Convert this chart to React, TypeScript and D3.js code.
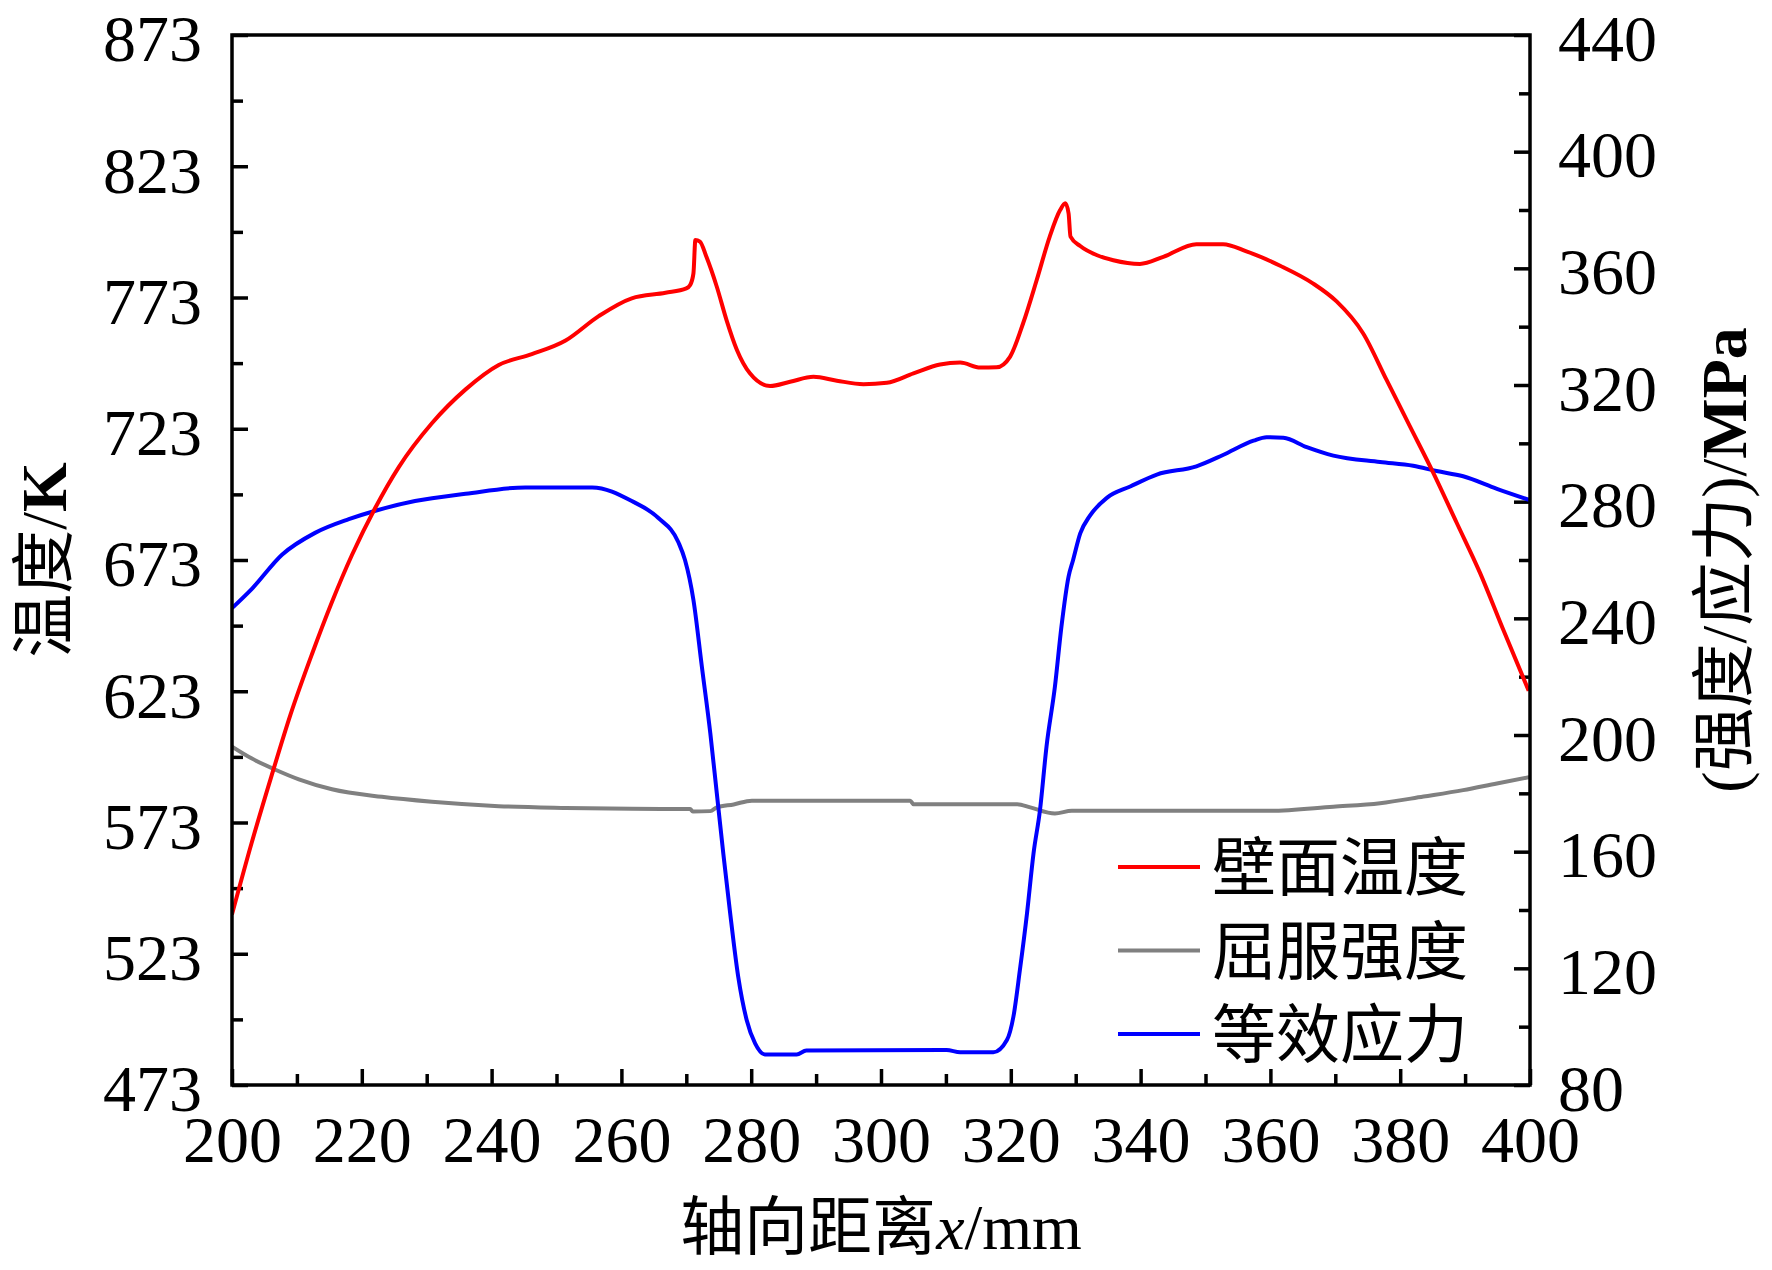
import React, { useEffect, useRef } from 'react';
import * as d3 from 'd3';

// 壁面温度 (K), left axis
const wallTemp: [number, number][] = [
  [200, 538], [203, 565], [206, 590], [209, 614], [212.3, 637], [215.4, 657],
  [218.5, 675], [222.1, 693], [225.7, 708.4], [230.8, 725.1], [236, 738.0], [241.1, 747.3],
  [246.2, 751.4], [251.4, 756.6], [256.5, 765.9], [261.6, 772.7], [266.8, 774.8], [270.0, 776.5],
  [270.6, 777.8], [271.1, 782.2], [271.4, 794.9], [272.1, 794.3], [273.1, 788.5], [274.7, 777.1],
  [276.2, 764.4], [277.8, 753.0], [279.8, 744.1], [282.9, 739.3], [286, 740.9], [289.6, 742.8],
  [293.2, 741.3], [297.3, 740.0], [300.9, 740.5], [305, 744.1], [309.1, 747.5], [312.2, 748.2],
  [315.3, 746.3], [317.8, 746.4], [319.9, 750.5], [321.9, 763.2], [324, 779.7], [326, 796.2],
  [327.6, 806.3], [328.4, 808.9], [328.9, 805.1], [329.2, 796.2], [330.7, 792.6], [333.2, 789.2],
  [335.8, 787.2], [339.9, 785.8], [343.5, 788.5], [348.6, 793.3], [352.7, 793.3], [356.3, 790.6],
  [361.5, 785.1], [366.6, 778.3], [370.2, 771.5], [374.3, 759.3], [377.9, 741.6], [381.5, 723.9],
  [385.1, 706.2], [388.7, 687.2], [392.3, 668.1], [395.9, 646.3], [399.8, 623.2],
];

// 屈服强度 (MPa), right axis
const yieldStrength: [number, number][] = [
  [200, 196.0], [203, 192], [206.7, 188.1], [210.3, 184.8], [215.4, 181.4], [223.1, 178.8],
  [230.8, 177.1], [241.1, 175.6], [251.4, 175.0], [261.6, 174.7], [270.6, 174.6], [271, 173.8],
  [273.7, 173.9], [274.7, 175.2], [277.3, 176.2], [280.1, 177.5], [304.5, 177.5], [305, 176.3],
  [321, 176.3], [323, 175.2], [326.8, 173.1], [329.4, 174.0], [360, 174.0], [369.7, 175.4],
  [376.9, 176.6], [383.6, 178.9], [389.7, 181.1], [394.9, 183.4], [400, 185.6],
];

// 等效应力 (MPa), right axis
const equivStress: [number, number][] = [
  [200, 243.5], [203.1, 250.2], [207.7, 261.8], [212.8, 269.3], [218, 274.0], [222.1, 276.9],
  [228.2, 280.2], [236, 282.7], [245.2, 284.9], [255.5, 284.9], [261.6, 280.2], [265.7, 274.4],
  [268.8, 266.0], [269.8, 260], [271.1, 246.3], [272.4, 223.4], [273.7, 200.6], [274.7, 180],
  [275.7, 159.4], [276.7, 140], [278.0, 117.1], [279.3, 102.3], [280.6, 94.3], [282.1, 90.5],
  [287.0, 90.5], [288.5, 91.8], [310.1, 92], [312.2, 91.2], [317.3, 91.2], [319.4, 95.4],
  [320.4, 103.4], [321.4, 119.4], [322.5, 138.9], [323.5, 159.4], [324.5, 174.3], [325.5, 196],
  [326.8, 216.6], [327.8, 237.1], [328.9, 254.3], [329.6, 260], [330.7, 269.1], [332.2, 275.2],
  [334.8, 281.3], [338.4, 285.2], [342.5, 289.3], [348.6, 292.1], [352.7, 296.0], [357.4, 300.9],
  [359.4, 302.1], [362, 301.9], [365.6, 298.7], [369.7, 295.8], [376.9, 293.6], [382, 292.3],
  [385.6, 290.5], [389.7, 288.7], [394.9, 284.4], [400, 280.5],
];

const xTicks = [200, 220, 240, 260, 280, 300, 320, 340, 360, 380, 400];
const xMinor = [210, 230, 250, 270, 290, 310, 330, 350, 370, 390];
const leftTicks = [473, 523, 573, 623, 673, 723, 773, 823, 873];
const leftMinor = [498, 548, 598, 648, 698, 748, 798, 848];
const rightTicks = [80, 120, 160, 200, 240, 280, 320, 360, 400, 440];
const rightMinor = [100, 140, 180, 220, 260, 300, 340, 380, 420];

const legendLabels = ['壁面温度', '屈服强度', '等效应力'];
const legendColors = ['#ff0000', '#808080', '#0000ff'];

const width = 1772;
const height = 1270;
const margin = { top: 35, right: 242, bottom: 185, left: 232 };
const FONT = "'Liberation Serif', 'Noto Sans CJK SC', serif";

const App: React.FC = () => {
  const svgRef = useRef<SVGSVGElement | null>(null);

  useEffect(() => {
    if (!svgRef.current) return;
    const svg = d3.select(svgRef.current);
    svg.selectAll('*').remove();

    const x0 = margin.left;
    const x1 = width - margin.right;
    const y0 = margin.top;
    const y1 = height - margin.bottom;

    const xScale = d3.scaleLinear().domain([200, 400]).range([x0, x1]);
    const yLeft = d3.scaleLinear().domain([473, 873]).range([y1, y0]);
    const yRight = d3.scaleLinear().domain([80, 440]).range([y1, y0]);

    svg.append('defs').append('clipPath').attr('id', 'plot-clip')
      .append('rect').attr('x', x0).attr('y', y0).attr('width', x1 - x0).attr('height', y1 - y0);

    const styleAxis = (g: d3.Selection<SVGGElement, unknown, null, undefined>) => {
      g.select('.domain').remove();
      g.attr('font-family', FONT).attr('font-size', 66);
      g.selectAll('line').attr('stroke', '#000').attr('stroke-width', 3.5);
      g.selectAll('text').attr('fill', '#000');
    };

    // left axis
    svg.append('g').attr('transform', `translate(${x0},0)`)
      .call(d3.axisLeft(yLeft).tickValues(leftTicks).tickSize(-16).tickPadding(30).tickFormat(d3.format('d')))
      .call(styleAxis)
      .selectAll('text').attr('dy', '0.39em');
    svg.append('g').attr('transform', `translate(${x0},0)`)
      .call(d3.axisLeft(yLeft).tickValues(leftMinor).tickSize(-11).tickFormat(() => ''))
      .call(styleAxis);

    // right axis
    svg.append('g').attr('transform', `translate(${x1},0)`)
      .call(d3.axisRight(yRight).tickValues(rightTicks).tickSize(-16).tickPadding(28).tickFormat(d3.format('d')))
      .call(styleAxis)
      .selectAll('text').attr('dy', '0.38em');
    svg.append('g').attr('transform', `translate(${x1},0)`)
      .call(d3.axisRight(yRight).tickValues(rightMinor).tickSize(-11).tickFormat(() => ''))
      .call(styleAxis);

    // bottom axis
    svg.append('g').attr('transform', `translate(0,${y1})`)
      .call(d3.axisBottom(xScale).tickValues(xTicks).tickSize(-16).tickPadding(30).tickFormat(d3.format('d')))
      .call(styleAxis);
    svg.append('g').attr('transform', `translate(0,${y1})`)
      .call(d3.axisBottom(xScale).tickValues(xMinor).tickSize(-11).tickFormat(() => ''))
      .call(styleAxis);

    // curves
    const lineLeft = d3.line<[number, number]>()
      .x(d => xScale(d[0])).y(d => yLeft(d[1])).curve(d3.curveMonotoneX);
    const lineRight = d3.line<[number, number]>()
      .x(d => xScale(d[0])).y(d => yRight(d[1])).curve(d3.curveMonotoneX);

    const curves = svg.append('g').attr('clip-path', 'url(#plot-clip)');
    curves.append('path').datum(yieldStrength).attr('d', lineRight)
      .attr('fill', 'none').attr('stroke', legendColors[1]).attr('stroke-width', 4);
    curves.append('path').datum(equivStress).attr('d', lineRight)
      .attr('fill', 'none').attr('stroke', legendColors[2]).attr('stroke-width', 4);
    curves.append('path').datum(wallTemp).attr('d', lineLeft)
      .attr('fill', 'none').attr('stroke', legendColors[0]).attr('stroke-width', 4);

    // frame
    svg.append('rect').attr('x', x0).attr('y', y0).attr('width', x1 - x0).attr('height', y1 - y0)
      .attr('fill', 'none').attr('stroke', '#000').attr('stroke-width', 3.5);

    // legend
    const legend = svg.append('g');
    legendLabels.forEach((label, i) => {
      const ly = 867 + i * 83.5;
      legend.append('line').attr('x1', 1118).attr('x2', 1200).attr('y1', ly).attr('y2', ly)
        .attr('stroke', legendColors[i]).attr('stroke-width', 4);
      legend.append('text').attr('x', 1212).attr('y', ly).attr('dy', '0.36em')
        .attr('font-family', FONT).attr('font-size', 64).attr('fill', '#000').text(label);
    });

    // axis titles
    const xt = svg.append('text').attr('x', (x0 + x1) / 2).attr('y', 1249)
      .attr('text-anchor', 'middle').attr('font-family', FONT).attr('font-size', 64).attr('fill', '#000');
    xt.append('tspan').text('轴向距离');
    xt.append('tspan').attr('font-style', 'italic').text('x');
    xt.append('tspan').text('/mm');

    const lt = svg.append('text').attr('transform', `translate(66,${(y0 + y1) / 2}) rotate(-90)`)
      .attr('text-anchor', 'middle').attr('font-family', FONT).attr('font-size', 64).attr('fill', '#000');
    lt.append('tspan').text('温度/');
    lt.append('tspan').attr('font-weight', 'bold').text('K');

    const rt = svg.append('text').attr('transform', `translate(1746,${(y0 + y1) / 2}) rotate(-90)`)
      .attr('text-anchor', 'middle').attr('font-family', FONT).attr('font-size', 64).attr('fill', '#000');
    rt.append('tspan').text('(强度/应力)/');
    rt.append('tspan').attr('font-weight', 'bold').text('MPa');
  }, []);

  return (
    <svg
      ref={svgRef}
      width={width}
      height={height}
      style={{ position: 'absolute', left: 0, top: 0, background: '#fff', display: 'block' }}
    />
  );
};

export default App;
